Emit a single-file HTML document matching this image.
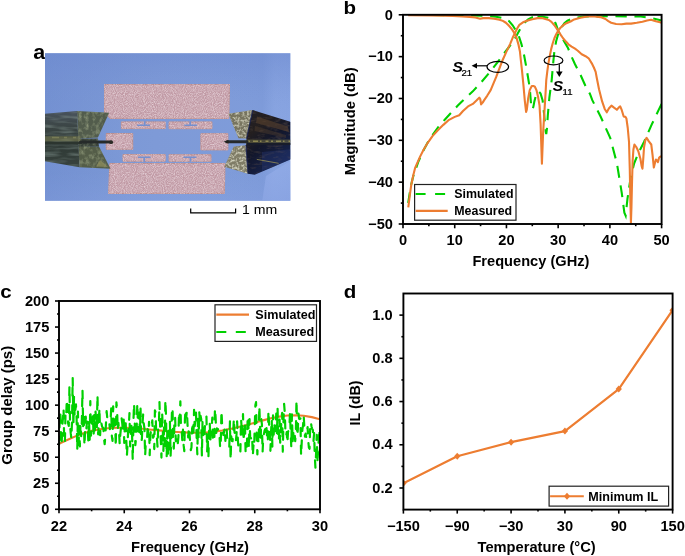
<!DOCTYPE html>
<html><head><meta charset="utf-8"><title>Figure</title>
<style>
html,body{margin:0;padding:0;background:#fff;}
body{width:685px;height:556px;overflow:hidden;font-family:"Liberation Sans",sans-serif;}
svg{display:block;will-change:transform;}
svg text{font-family:"Liberation Sans",sans-serif;fill:#000;}
</style></head><body>
<svg width="685" height="556" viewBox="0 0 685 556">
<rect width="685" height="556" fill="#fff"/>
<text transform="translate(33.2 58.7) scale(1.06 1)" font-size="20.3" font-weight="bold" text-anchor="start" >a</text>
<defs>
<linearGradient id="abg" x1="0" y1="0" x2="1" y2="0">
<stop offset="0" stop-color="#7896d4"/><stop offset="0.45" stop-color="#7e9ad7"/><stop offset="0.88" stop-color="#7f9cda"/><stop offset="0.93" stop-color="#8aa6e2"/><stop offset="1" stop-color="#8ca8e4"/>
</linearGradient>
<radialGradient id="avig" cx="0.6" cy="0.55" r="0.8"><stop offset="0.35" stop-color="#6a86cc" stop-opacity="0"/><stop offset="1" stop-color="#6a86cc" stop-opacity="0.5"/></radialGradient>
<linearGradient id="abg2" x1="0" y1="0" x2="0" y2="1">
<stop offset="0" stop-color="#6f8cd0" stop-opacity="0.35"/><stop offset="0.35" stop-color="#7f9cda" stop-opacity="0"/><stop offset="0.8" stop-color="#8eaae6" stop-opacity="0"/><stop offset="1" stop-color="#93aeea" stop-opacity="0.45"/>
</linearGradient>
<filter id="speck" color-interpolation-filters="sRGB" x="0" y="0" width="100%" height="100%">
<feTurbulence type="fractalNoise" baseFrequency="1.1" numOctaves="1" seed="3" result="n"/>
<feColorMatrix in="n" type="matrix" values="0 0 0 0 0.97  0 0 0 0 0.93  0 0 0 0 0.95  1.3 0 0 0 -0.45" result="w"/>
<feComposite in="w" in2="SourceGraphic" operator="in" result="ws"/>
<feMerge><feMergeNode in="SourceGraphic"/><feMergeNode in="ws"/></feMerge>
</filter>
<filter id="prbL" color-interpolation-filters="sRGB" x="0" y="0" width="100%" height="100%">
<feTurbulence type="fractalNoise" baseFrequency="0.28 0.2" numOctaves="3" seed="11" result="n"/>
<feColorMatrix in="n" type="matrix" values="0 0 0 0 0.66  0 0 0 0 0.70  0 0 0 0 0.56  1.3 0 0 0 -0.55" result="w"/>
<feComposite in="w" in2="SourceGraphic" operator="in" result="ws"/>
<feMerge><feMergeNode in="SourceGraphic"/><feMergeNode in="ws"/></feMerge>
</filter>
<filter id="prbLB" color-interpolation-filters="sRGB" x="0" y="0" width="100%" height="100%">
<feTurbulence type="fractalNoise" baseFrequency="0.05 0.3" numOctaves="2" seed="4" result="n"/>
<feColorMatrix in="n" type="matrix" values="0 0 0 0 0.55  0 0 0 0 0.62  0 0 0 0 0.6  1.2 0 0 0 -0.5" result="w"/>
<feComposite in="w" in2="SourceGraphic" operator="in" result="ws"/>
<feMerge><feMergeNode in="SourceGraphic"/><feMergeNode in="ws"/></feMerge>
</filter>
<filter id="prbR" color-interpolation-filters="sRGB" x="0" y="0" width="100%" height="100%">
<feTurbulence type="fractalNoise" baseFrequency="0.12 0.35" numOctaves="3" seed="5" result="n"/>
<feColorMatrix in="n" type="matrix" values="0 0 0 0 0.36  0 0 0 0 0.30  0 0 0 0 0.27  1.4 0 0 0 -0.72" result="w"/>
<feComposite in="w" in2="SourceGraphic" operator="in" result="ws"/>
<feMerge><feMergeNode in="SourceGraphic"/><feMergeNode in="ws"/></feMerge>
</filter>
<filter id="prbW" color-interpolation-filters="sRGB" x="0" y="0" width="100%" height="100%">
<feTurbulence type="fractalNoise" baseFrequency="0.4" numOctaves="3" seed="23" result="n"/>
<feColorMatrix in="n" type="matrix" values="0 0 0 0 0.86  0 0 0 0 0.86  0 0 0 0 0.78  2.4 0 0 0 -1.0" result="w"/>
<feComposite in="w" in2="SourceGraphic" operator="in" result="ws"/>
<feMerge><feMergeNode in="SourceGraphic"/><feMergeNode in="ws"/></feMerge>
</filter>
<filter id="soft" color-interpolation-filters="sRGB" x="-2%" y="-2%" width="104%" height="104%"><feGaussianBlur stdDeviation="0.8"/></filter>
<clipPath id="ca"><rect x="45.0" y="53.2" width="245.3" height="147.60000000000002"/></clipPath>
<linearGradient id="lbody" x1="0" y1="0" x2="0" y2="1">
<stop offset="0" stop-color="#48525c"/><stop offset="0.3" stop-color="#3a4443"/><stop offset="0.62" stop-color="#2f3935"/><stop offset="1" stop-color="#38433f"/>
</linearGradient>
<linearGradient id="rbody" x1="0" y1="0" x2="0.6" y2="1">
<stop offset="0" stop-color="#1f1f27"/><stop offset="0.3" stop-color="#241f1f"/><stop offset="0.55" stop-color="#12162a"/><stop offset="1" stop-color="#172553"/>
</linearGradient>
</defs>
<g clip-path="url(#ca)"><g>
<rect x="43.0" y="51.2" width="249.3" height="151.60000000000002" fill="url(#abg)"/>
<rect x="43.0" y="51.2" width="249.3" height="151.60000000000002" fill="url(#abg2)"/>
<path d="M266 176 L292 160 L292 202 L262 202 Z" fill="#9db4ee" opacity="0.55"/>
<rect x="43.0" y="51.2" width="249.3" height="151.60000000000002" fill="url(#avig)"/>
<g filter="url(#speck)">
<path d="M104.1 84.4 L229.5 84.4 L228.8 118.5 L110.0 118.4 L104.4 112.5 Z" fill="#c19aa5" stroke="#bf8a84" stroke-width="0.9" />
<path d="M109.8 163.5 L225.0 163.6 L224.3 193.6 L108.6 193.6 Z" fill="#c19aa5" stroke="#bf8a84" stroke-width="0.9" />
<path d="M106.3 133.6 L132.7 133.6 L132.7 149.3 L106.3 149.3 Z" fill="#c19aa5" stroke="#bf8a84" stroke-width="0.9" />
<path d="M200.9 133.7 L227.9 133.7 L227.9 149.9 L200.9 149.9 Z" fill="#c19aa5" stroke="#bf8a84" stroke-width="0.9" />
<path d="M121.4 121.9 L165.2 121.9 L165.2 128.6 L121.4 128.6 Z" fill="#c19aa5" stroke="#bf8a84" stroke-width="0.9" />
<path d="M169.1 121.9 L211.9 121.9 L211.9 128.7 L169.1 128.7 Z" fill="#c19aa5" stroke="#bf8a84" stroke-width="0.9" />
<path d="M123.0 154.6 L165.2 154.6 L165.2 161.2 L123.0 161.2 Z" fill="#c19aa5" stroke="#bf8a84" stroke-width="0.9" />
<path d="M169.1 154.7 L211.0 154.7 L211.0 161.3 L169.1 161.3 Z" fill="#c19aa5" stroke="#bf8a84" stroke-width="0.9" />
</g>
<path d="M137.2 125.2 H150.0" stroke="#7590cf" stroke-width="1.5" fill="none"/>
<path d="M144.7 121.3 V125.2" stroke="#7590cf" stroke-width="1.7" fill="none"/>
<path d="M184.3 125.2 H197.0" stroke="#7590cf" stroke-width="1.5" fill="none"/>
<path d="M190.2 121.3 V125.2" stroke="#7590cf" stroke-width="1.7" fill="none"/>
<path d="M138.0 157.3 H150.6" stroke="#7590cf" stroke-width="1.5" fill="none"/>
<path d="M144.3 157.3 V161.7" stroke="#7590cf" stroke-width="1.7" fill="none"/>
<path d="M183.3 157.3 H196.3" stroke="#7590cf" stroke-width="1.5" fill="none"/>
<path d="M190.5 157.3 V161.7" stroke="#7590cf" stroke-width="1.7" fill="none"/>
<g>
<g filter="url(#prbLB)">
<path d="M43 114 L77 111 L79.6 167.2 L43 160.8 Z" fill="url(#lbody)"/>
</g>
<g filter="url(#prbL)">
<path d="M77 111 L109.2 112.8 L97.9 137.4 L81 138.6 L78.2 138.6 Z" fill="#525c4c"/>
<path d="M78.4 146 L81 146 L99 146.6 L110.5 168.8 L79.6 167.3 Z" fill="#545d48"/>
<path d="M78 138.4 H97.9 L99 146.6 H78.4 Z" fill="#39423a"/>
</g>
<path d="M43 136.2 H80.5 V141.4 H43 Z" fill="#7d8052" opacity="0.55"/>
<path d="M52 137.5 H76" stroke="#a3a56c" stroke-width="1.6" opacity="0.4" stroke-dasharray="7 5 3 6"/>
<path d="M43 142.9 H82" stroke="#2c352f" stroke-width="2.2"/>
<path d="M100 160 L108 167 L96 166.5 Z" fill="#9c9a62" opacity="0.6"/>
<path d="M80.5 142.0 H110.4" stroke="#262b2a" stroke-width="3.0" stroke-linecap="round"/>
<circle cx="111.2" cy="142.2" r="1.9" fill="#2a2a25"/>
<g filter="url(#prbR)">
<path d="M252.7 110.1 L293 122.6 L293 158.5 L254.7 174.8 L248 173.8 L246 146 L246.6 138.2 Z" fill="url(#rbody)"/>
</g>
<path d="M257 116.5 L288 126.5 L289 132 L256 123 Z" fill="#5e4630" opacity="0.55"/>
<path d="M255 126 L286 135 L286 138 L254.5 131 Z" fill="#54402f" opacity="0.4"/>
<path d="M262 152 L293 149 L293 158.5 L262 171 Z" fill="#2b3f86" opacity="0.3"/>
<path d="M256.8 159.4 L278.6 163.3" stroke="#a69b55" stroke-width="1" opacity="0.7"/>
<g filter="url(#prbW)">
<path d="M228.4 113.8 L252.7 110.1 L246.6 138.6 L238.5 138.2 Z" fill="#77745f"/>
<path d="M233.8 146.6 L246 145.2 L248 173.8 L224.3 166.8 Z" fill="#7f7c66"/>
</g>
<path d="M252.7 110.1 L246.6 138.6" stroke="#141c4a" stroke-width="1.3" opacity="0.8"/>
<path d="M246 145.2 L248 173.8" stroke="#141c4a" stroke-width="1.3" opacity="0.8"/>
<path d="M246.5 139.6 H293 V144.8 H246.5 Z" fill="#7a7646" opacity="0.5"/>
<path d="M248 141.3 H293" stroke="#c5bc68" stroke-width="1.5" opacity="0.55" stroke-dasharray="2 3 5 2 1.5 4 3 2.5"/>
<path d="M227 141.8 H247" stroke="#262a2c" stroke-width="3.0" stroke-linecap="round"/>
<path d="M247 144 H293" stroke="#181c2a" stroke-width="1.8"/>
<path d="M223.4 141.8 L228.5 140.1 L228.5 143.5 Z" fill="#20221e"/>
</g>
</g></g>
<path d="M190.7 208.6 V212.8 H235.6 V208.6" fill="none" stroke="#000" stroke-width="1.2"/>
<text transform="translate(241.9 214.3) scale(1.03 1)" font-size="13.7" font-weight="normal" text-anchor="start" >1 mm</text>
<clipPath id="cb"><rect x="403.0" y="14.8" width="258.6" height="209.2"/></clipPath>
<g clip-path="url(#cb)">
<polyline points="408.17,203.08 410.76,186.34 413.34,175.88 418.52,161.24 423.69,149.94 428.86,140.32 439.20,125.68 445.41,118.98 457.82,105.59 465.06,98.48 472.82,91.37 480.58,83.00 490.92,70.87 498.68,60.82 503.85,53.50 509.03,47.02 514.20,39.90 517.82,33.21 520.66,28.19 524.54,22.75 528.16,19.40 532.30,17.31 537.47,16.68" fill="none" stroke="#00D000" stroke-width="2.1"  stroke-dasharray="10.6 7.6" stroke-dashoffset="18.10"/>
<polyline points="537.47,16.68 542.64,16.68 547.82,17.73 551.95,19.82 555.57,23.17 558.16,30.70 563.07,39.49 567.99,48.06 572.12,57.90 575.02,64.17 580.40,74.63 586.40,88.02 589.97,93.88 592.30,100.15 600.57,116.47 610.19,137.81 616.91,163.33 621.78,193.04 624.36,212.70 625.65,215.63 627.46,198.90 630.57,177.98 634.19,163.33 638.84,152.04 644.02,141.99 651.77,124.42 659.53,108.10 661.60,103.92" fill="none" stroke="#00D000" stroke-width="2.1"  stroke-dasharray="12 7.7" stroke-dashoffset="1.12"/>
<polyline points="408.17,15.01 454.72,15.13 480.58,15.64 496.10,16.68 503.85,18.15 509.03,21.08 512.65,25.26 518.34,34.46 521.44,44.09 523.77,53.50 526.61,68.77 529.71,87.60 531.27,106.43 532.30,109.36 533.33,106.85 534.37,101.41 536.44,93.46 538.51,91.37 540.58,93.46 542.64,100.57 544.20,115.22 545.75,131.95 546.26,134.04 547.04,127.77 547.82,115.22 549.37,97.64 551.70,80.07 552.99,65.01 554.38,51.20 556.09,41.58 558.16,34.05 561.26,27.77 564.37,23.17 567.47,20.66 573.68,18.15 584.02,16.47 609.88,16.26 640.91,16.47 650.22,17.90 656.43,19.19 661.60,20.45" fill="none" stroke="#00D000" stroke-width="2.1"  stroke-dasharray="11.3 7.7" stroke-dashoffset="13"/>
<polyline points="408.28,207.26 409.72,195.97 411.28,184.67 413.34,175.05 415.10,167.93 420.07,156.64 423.69,149.52 427.72,142.83 432.48,136.14 437.81,130.28 443.34,124.84 449.03,119.82 454.72,116.89 459.22,115.22 463.00,111.03 468.01,106.43 472.82,103.92 476.44,100.57 479.29,97.64 480.32,99.32 481.10,104.34 482.65,102.66 484.20,100.15 487.30,95.55 490.67,90.11 496.10,77.14 502.66,59.99 506.44,51.62 510.06,44.09 512.65,37.81 515.23,32.37 517.30,28.19 519.37,24.84 522.99,22.33 526.97,20.66 532.30,19.19 537.47,18.15 542.64,18.15 548.85,19.99 551.44,21.91 554.38,25.26 556.09,27.77 558.16,30.70 560.75,34.88 563.07,38.23 565.92,41.58 568.40,44.30 571.61,46.60 575.02,48.69 577.81,50.78 581.69,54.30 585.57,56.22 588.67,58.31 591.78,63.33 593.85,67.52 595.66,71.91 596.69,77.56 599.02,89.28 602.12,101.41 604.71,108.94 606.78,112.29 608.85,108.52 611.43,105.59 614.02,107.68 616.86,109.78 618.67,107.68 620.22,106.43 621.78,110.20 623.69,116.47 625.40,116.89 626.43,118.56 627.72,127.77 629.02,141.99 629.79,169.61 630.41,203.08 630.93,222.74 631.45,207.26 632.02,182.16 632.64,160.82 633.41,149.52 634.45,144.50 636.26,147.01 638.33,151.20 640.39,158.73 641.69,166.26 642.46,168.77 643.24,159.15 644.02,147.43 645.31,140.32 646.60,137.81 648.67,141.16 651.26,144.50 652.55,154.96 653.84,167.52 654.88,163.33 655.91,159.57 656.95,160.40 657.98,162.08 659.01,157.89 660.05,156.64 661.60,156.22" fill="none" stroke="#ED7D31" stroke-width="2.1"  stroke-linejoin="round" stroke-linecap="butt"/>
<polyline points="408.17,15.30 428.86,15.43 444.38,15.72 452.91,16.06 462.48,16.47 469.72,16.89 475.41,17.52 480.06,18.77 483.17,18.15 488.86,18.15 494.03,18.77 499.46,19.65 502.82,20.87 505.92,22.75 508.51,25.26 511.09,28.19 513.16,31.12 515.23,34.46 516.78,38.65 518.34,44.09 519.89,51.20 520.82,59.99 521.96,70.03 523.51,85.93 524.80,100.57 526.09,111.87 526.87,109.36 528.16,98.48 529.71,90.11 531.78,85.93 533.33,85.93 534.89,86.76 536.44,90.11 537.99,96.39 539.54,105.59 540.58,123.58 541.35,146.60 541.92,163.75 542.49,148.69 543.16,131.95 543.94,119.40 544.97,102.66 545.75,89.69 546.26,80.07 547.30,71.28 548.49,62.92 549.88,55.38 551.18,49.11 552.73,43.25 554.38,38.23 556.09,34.46 558.16,30.70 560.49,27.77 563.07,25.26 566.44,23.17 570.57,21.49 574.19,19.40 580.40,17.73 587.38,16.47 594.36,16.47 600.57,17.10 605.48,18.98 608.33,21.08 611.17,22.75 616.09,24.00 621.57,24.30 626.43,23.59 631.09,23.59 636.77,22.75 642.46,21.70 647.12,20.45 651.00,19.82 653.32,20.45 655.91,21.29 660.05,22.33 661.60,22.75" fill="none" stroke="#ED7D31" stroke-width="2.1"  stroke-linejoin="round" stroke-linecap="butt"/>
</g>
<rect x="403.0" y="14.8" width="258.6" height="209.2" fill="none" stroke="#000" stroke-width="1.9"/>
<line x1="403.0" y1="14.80" x2="398.7" y2="14.80" stroke="#000" stroke-width="1.6"/>
<line x1="403.0" y1="56.64" x2="398.7" y2="56.64" stroke="#000" stroke-width="1.6"/>
<line x1="403.0" y1="98.48" x2="398.7" y2="98.48" stroke="#000" stroke-width="1.6"/>
<line x1="403.0" y1="140.32" x2="398.7" y2="140.32" stroke="#000" stroke-width="1.6"/>
<line x1="403.0" y1="182.16" x2="398.7" y2="182.16" stroke="#000" stroke-width="1.6"/>
<line x1="403.0" y1="224.00" x2="398.7" y2="224.00" stroke="#000" stroke-width="1.6"/>
<line x1="403.0" y1="35.72" x2="400.8" y2="35.72" stroke="#000" stroke-width="1.6"/>
<line x1="403.0" y1="77.56" x2="400.8" y2="77.56" stroke="#000" stroke-width="1.6"/>
<line x1="403.0" y1="119.40" x2="400.8" y2="119.40" stroke="#000" stroke-width="1.6"/>
<line x1="403.0" y1="161.24" x2="400.8" y2="161.24" stroke="#000" stroke-width="1.6"/>
<line x1="403.0" y1="203.08" x2="400.8" y2="203.08" stroke="#000" stroke-width="1.6"/>
<line x1="403.00" y1="224.0" x2="403.00" y2="228.3" stroke="#000" stroke-width="1.6"/>
<line x1="454.72" y1="224.0" x2="454.72" y2="228.3" stroke="#000" stroke-width="1.6"/>
<line x1="506.44" y1="224.0" x2="506.44" y2="228.3" stroke="#000" stroke-width="1.6"/>
<line x1="558.16" y1="224.0" x2="558.16" y2="228.3" stroke="#000" stroke-width="1.6"/>
<line x1="609.88" y1="224.0" x2="609.88" y2="228.3" stroke="#000" stroke-width="1.6"/>
<line x1="661.60" y1="224.0" x2="661.60" y2="228.3" stroke="#000" stroke-width="1.6"/>
<line x1="428.86" y1="224.0" x2="428.86" y2="226.2" stroke="#000" stroke-width="1.6"/>
<line x1="480.58" y1="224.0" x2="480.58" y2="226.2" stroke="#000" stroke-width="1.6"/>
<line x1="532.30" y1="224.0" x2="532.30" y2="226.2" stroke="#000" stroke-width="1.6"/>
<line x1="584.02" y1="224.0" x2="584.02" y2="226.2" stroke="#000" stroke-width="1.6"/>
<line x1="635.74" y1="224.0" x2="635.74" y2="226.2" stroke="#000" stroke-width="1.6"/>
<text transform="translate(392.9 19.5) scale(1.03 1)" font-size="14.2" font-weight="bold" text-anchor="end" >0</text>
<text transform="translate(392.9 61.34) scale(1.03 1)" font-size="14.2" font-weight="bold" text-anchor="end" >−10</text>
<text transform="translate(392.9 103.18) scale(1.03 1)" font-size="14.2" font-weight="bold" text-anchor="end" >−20</text>
<text transform="translate(392.9 145.01999999999998) scale(1.03 1)" font-size="14.2" font-weight="bold" text-anchor="end" >−30</text>
<text transform="translate(392.9 186.86) scale(1.03 1)" font-size="14.2" font-weight="bold" text-anchor="end" >−40</text>
<text transform="translate(392.9 228.7) scale(1.03 1)" font-size="14.2" font-weight="bold" text-anchor="end" >−50</text>
<text transform="translate(403.0 245.1) scale(1.03 1)" font-size="14.2" font-weight="bold" text-anchor="middle" >0</text>
<text transform="translate(454.72 245.1) scale(1.03 1)" font-size="14.2" font-weight="bold" text-anchor="middle" >10</text>
<text transform="translate(506.44 245.1) scale(1.03 1)" font-size="14.2" font-weight="bold" text-anchor="middle" >20</text>
<text transform="translate(558.1600000000001 245.1) scale(1.03 1)" font-size="14.2" font-weight="bold" text-anchor="middle" >30</text>
<text transform="translate(609.88 245.1) scale(1.03 1)" font-size="14.2" font-weight="bold" text-anchor="middle" >40</text>
<text transform="translate(661.6 245.1) scale(1.03 1)" font-size="14.2" font-weight="bold" text-anchor="middle" >50</text>
<text transform="translate(530.9 266.3) scale(1.03 1)" font-size="14.2" font-weight="bold" text-anchor="middle" >Frequency (GHz)</text>
<text transform="translate(354.8 121.2) rotate(-90) scale(1.045 1)" font-size="14.2" font-weight="bold" text-anchor="middle" >Magnitude (dB)</text>
<text transform="translate(343.4 14.3) scale(1.13 1)" font-size="18.2" font-weight="bold" text-anchor="start" >b</text>
<rect x="414.6" y="184.5" width="101.4" height="35.7" fill="#fff" stroke="#222" stroke-width="1.2"/>
<line x1="415.6" y1="194" x2="447.7" y2="194" stroke="#00D000" stroke-width="2.1" stroke-dasharray="10 9.5"/>
<line x1="415.6" y1="210.9" x2="447.7" y2="210.9" stroke="#ED7D31" stroke-width="2.1"/>
<text transform="translate(454.3 197.7) scale(1.0 1)" font-size="12.4" font-weight="bold" text-anchor="start" >Simulated</text>
<text transform="translate(454.3 215.3) scale(1.0 1)" font-size="12.4" font-weight="bold" text-anchor="start" >Measured</text>
<ellipse cx="497.8" cy="66.8" rx="10.8" ry="5.5" fill="none" stroke="#000" stroke-width="1.2"/>
<line x1="487" y1="65.8" x2="476" y2="65.8" stroke="#000" stroke-width="1.2"/>
<path d="M471.6 65.8 L477 63 L477 68.6 Z" fill="#000"/>
<text transform="translate(452.4 72.0) scale(1.03 1)" font-size="15.2" font-weight="bold" text-anchor="start" font-style="italic">S</text>
<text transform="translate(461.5 75.8) scale(0.98 1)" font-size="9.8" font-weight="normal" text-anchor="start" stroke="#000" stroke-width="0.25">21</text>
<ellipse cx="553.5" cy="60.4" rx="9.4" ry="4.4" fill="none" stroke="#000" stroke-width="1.2"/>
<line x1="559.3" y1="64.2" x2="559.3" y2="72" stroke="#000" stroke-width="1.2"/>
<path d="M559.3 77.1 L556 71.4 L562.6 71.4 Z" fill="#000"/>
<text transform="translate(552.7 90.7) scale(1.03 1)" font-size="15.2" font-weight="bold" text-anchor="start" font-style="italic">S</text>
<text transform="translate(562.6 94.5) scale(0.98 1)" font-size="9.8" font-weight="normal" text-anchor="start" stroke="#000" stroke-width="0.25">11</text>
<clipPath id="cc"><rect x="59.0" y="301.0" width="261.0" height="208.3"/></clipPath>
<g clip-path="url(#cc)">
<polyline points="59.00,443.69 67.16,440.04 75.31,436.39 83.47,433.27 91.62,430.88 99.78,429.31 107.94,428.27 116.09,427.75 124.25,427.75 132.41,428.06 140.56,428.58 148.72,429.42 156.88,430.15 165.03,430.98 173.19,431.71 181.34,432.23 189.50,432.65 197.66,432.75 205.81,432.44 213.97,431.71 222.12,430.46 230.28,428.90 238.44,427.02 246.59,424.94 254.75,422.65 262.91,420.36 271.06,418.27 279.22,416.61 287.38,415.56 295.53,415.25 303.69,415.77 311.84,417.13 320.00,419.21" fill="none" stroke="#ED7D31" stroke-width="2.1"  stroke-linejoin="round" stroke-linecap="butt"/>
<polyline points="59.00,444.97 59.65,421.66 60.30,412.32 60.96,433.79 61.61,445.35 62.26,426.47 62.92,418.03 63.57,408.37 64.22,442.36 64.87,443.18 65.52,412.78 66.18,415.84 66.83,399.35 67.48,407.30 68.14,423.51 68.79,425.87 69.44,386.00 70.09,425.68 70.74,433.21 71.40,438.62 72.05,419.41 72.70,378.07 73.36,426.32 74.01,396.82 74.66,416.91 75.31,410.55 75.96,404.46 76.62,418.58 77.27,450.06 77.92,411.54 78.58,444.89 79.23,425.83 79.88,446.36 80.53,423.88 81.18,436.27 81.84,421.37 82.49,389.84 83.14,426.11 83.80,412.93 84.45,446.04 85.10,430.68 85.75,416.72 86.41,428.29 87.06,421.68 87.71,425.88 88.36,442.41 89.02,419.60 89.67,439.83 90.32,401.13 90.97,435.64 91.62,418.70 92.28,428.63 92.93,415.30 93.58,437.43 94.23,415.03 94.89,430.90 95.54,411.70 96.19,420.74 96.84,427.55 97.50,394.74 98.15,434.31 98.80,423.43 99.45,407.60 100.11,435.12 100.76,422.62 101.41,423.38 102.07,426.51 102.72,427.62 103.37,428.08 104.02,438.58 104.67,444.20 105.33,436.07 105.98,423.09 106.63,411.03 107.29,418.21 107.94,417.32 108.59,421.07 109.24,422.21 109.89,429.08 110.55,421.46 111.20,408.43 111.85,436.06 112.51,440.94 113.16,406.30 113.81,428.83 114.46,419.42 115.11,420.78 115.77,447.10 116.42,402.33 117.07,409.26 117.73,430.19 118.38,422.75 119.03,430.98 119.68,444.22 120.33,434.21 120.99,427.94 121.64,418.33 122.29,423.68 122.95,432.19 123.60,415.37 124.25,442.96 124.90,422.76 125.55,418.64 126.21,436.96 126.86,456.50 127.51,445.01 128.17,430.14 128.82,426.37 129.47,413.10 130.12,446.34 130.77,433.24 131.43,424.82 132.08,435.32 132.73,460.60 133.39,422.75 134.04,403.29 134.69,420.15 135.34,445.14 135.99,438.54 136.65,430.26 137.30,403.17 137.95,425.04 138.61,431.56 139.26,412.72 139.91,434.02 140.56,408.67 141.21,441.77 141.87,438.98 142.52,423.35 143.17,414.13 143.83,424.10 144.48,428.62 145.13,456.19 145.78,441.68 146.44,440.28 147.09,439.20 147.74,424.53 148.39,436.45 149.04,421.75 149.70,455.14 150.35,436.16 151.00,430.20 151.66,426.07 152.31,420.39 152.96,437.68 153.61,434.40 154.27,449.03 154.92,410.30 155.57,412.18 156.22,433.31 156.88,437.11 157.53,446.87 158.18,428.47 158.83,427.90 159.48,402.08 160.14,427.18 160.79,440.42 161.44,457.53 162.09,411.75 162.75,427.53 163.40,450.86 164.05,427.46 164.71,450.66 165.36,399.68 166.01,414.97 166.66,457.23 167.31,431.64 167.97,456.62 168.62,430.84 169.27,449.35 169.92,421.27 170.58,456.30 171.23,440.70 171.88,412.94 172.54,407.35 173.19,444.06 173.84,448.59 174.49,417.11 175.14,417.40 175.80,441.29 176.45,437.44 177.10,437.39 177.76,443.79 178.41,437.12 179.06,411.95 179.71,419.22 180.36,401.39 181.02,429.27 181.67,429.88 182.32,440.89 182.98,429.70 183.63,445.17 184.28,451.21 184.93,418.99 185.58,409.31 186.24,417.17 186.89,410.73 187.54,424.80 188.20,437.45 188.85,426.99 189.50,433.01 190.15,442.64 190.80,450.23 191.46,447.53 192.11,428.34 192.76,426.34 193.42,434.53 194.07,409.79 194.72,426.12 195.37,420.91 196.02,412.69 196.68,439.29 197.33,454.32 197.98,418.95 198.64,437.77 199.29,411.82 199.94,424.56 200.59,415.93 201.24,419.17 201.90,456.28 202.55,419.91 203.20,438.12 203.86,439.29 204.51,435.20 205.16,419.62 205.81,418.20 206.46,416.64 207.12,451.51 207.77,437.68 208.42,457.43 209.08,431.52 209.73,422.47 210.38,440.33 211.03,427.30 211.69,427.57 212.34,417.56 212.99,441.47 213.64,441.67 214.29,440.91 214.95,408.26 215.60,416.97 216.25,432.88 216.91,428.43 217.56,429.97 218.21,428.91 218.86,434.36 219.52,436.09 220.17,448.18 220.82,440.27 221.47,410.51 222.12,425.10 222.78,431.32 223.43,435.04 224.08,431.51 224.73,427.80 225.39,440.88 226.04,429.98 226.69,429.48 227.34,442.42 228.00,443.01 228.65,445.80 229.30,446.69 229.96,421.32 230.61,460.29 231.26,436.47 231.91,440.99 232.56,441.15 233.22,431.84 233.87,418.46 234.52,432.18 235.17,435.02 235.83,441.19 236.48,434.92 237.13,421.38 237.79,438.39 238.44,448.19 239.09,449.73 239.74,447.68 240.39,451.36 241.05,418.95 241.70,428.62 242.35,436.32 243.01,414.21 243.66,441.75 244.31,423.35 244.96,422.70 245.61,453.22 246.27,453.32 246.92,445.09 247.57,421.16 248.23,416.05 248.88,448.85 249.53,419.16 250.18,437.74 250.83,437.82 251.49,439.81 252.14,436.79 252.79,456.17 253.45,445.46 254.10,448.44 254.75,425.89 255.40,405.00 256.05,402.17 256.71,436.41 257.36,454.36 258.01,437.16 258.67,444.00 259.32,405.86 259.97,424.16 260.62,440.98 261.27,419.22 261.93,424.33 262.58,452.37 263.23,438.03 263.89,434.13 264.54,430.67 265.19,429.10 265.84,435.13 266.50,428.15 267.15,438.15 267.80,442.09 268.45,410.59 269.11,425.54 269.76,424.42 270.41,450.80 271.06,432.10 271.71,419.18 272.37,446.56 273.02,415.37 273.67,434.64 274.33,424.24 274.98,431.13 275.63,426.46 276.28,413.56 276.94,434.39 277.59,408.70 278.24,439.17 278.89,441.04 279.54,419.58 280.20,442.65 280.85,433.53 281.50,416.83 282.15,412.82 282.81,451.63 283.46,421.88 284.11,403.89 284.77,412.81 285.42,431.45 286.07,436.10 286.72,432.10 287.38,443.22 288.03,431.62 288.68,430.59 289.33,430.02 289.98,412.71 290.64,431.09 291.29,447.06 291.94,414.39 292.60,442.03 293.25,433.89 293.90,429.81 294.55,432.55 295.21,441.14 295.86,431.34 296.51,399.68 297.16,436.03 297.81,429.93 298.47,413.55 299.12,418.78 299.77,419.09 300.42,418.35 301.08,455.75 301.73,441.94 302.38,429.58 303.04,425.32 303.69,415.53 304.34,426.84 304.99,436.63 305.64,433.59 306.30,437.43 306.95,432.05 307.60,427.07 308.25,440.86 308.91,447.62 309.56,448.75 310.21,423.94 310.86,422.14 311.52,426.50 312.17,428.86 312.82,429.77 313.48,441.25 314.13,433.18 314.78,456.13 315.43,467.64 316.08,453.20 316.74,434.79 317.39,462.43 318.04,446.88 318.70,440.87 319.35,429.06 320.00,457.62" fill="none" stroke="#00D000" stroke-width="2.2"  stroke-dasharray="8 9.5" stroke-linejoin="round" stroke-linecap="round"/>
</g>
<rect x="59.0" y="301.0" width="261.0" height="208.3" fill="none" stroke="#000" stroke-width="1.9"/>
<line x1="59.0" y1="509.30" x2="55.0" y2="509.30" stroke="#000" stroke-width="1.6"/>
<line x1="59.0" y1="483.26" x2="55.0" y2="483.26" stroke="#000" stroke-width="1.6"/>
<line x1="59.0" y1="457.23" x2="55.0" y2="457.23" stroke="#000" stroke-width="1.6"/>
<line x1="59.0" y1="431.19" x2="55.0" y2="431.19" stroke="#000" stroke-width="1.6"/>
<line x1="59.0" y1="405.15" x2="55.0" y2="405.15" stroke="#000" stroke-width="1.6"/>
<line x1="59.0" y1="379.11" x2="55.0" y2="379.11" stroke="#000" stroke-width="1.6"/>
<line x1="59.0" y1="353.07" x2="55.0" y2="353.07" stroke="#000" stroke-width="1.6"/>
<line x1="59.0" y1="327.04" x2="55.0" y2="327.04" stroke="#000" stroke-width="1.6"/>
<line x1="59.0" y1="301.00" x2="55.0" y2="301.00" stroke="#000" stroke-width="1.6"/>
<line x1="59.0" y1="496.28" x2="57.0" y2="496.28" stroke="#000" stroke-width="1.6"/>
<line x1="59.0" y1="470.24" x2="57.0" y2="470.24" stroke="#000" stroke-width="1.6"/>
<line x1="59.0" y1="444.21" x2="57.0" y2="444.21" stroke="#000" stroke-width="1.6"/>
<line x1="59.0" y1="418.17" x2="57.0" y2="418.17" stroke="#000" stroke-width="1.6"/>
<line x1="59.0" y1="392.13" x2="57.0" y2="392.13" stroke="#000" stroke-width="1.6"/>
<line x1="59.0" y1="366.09" x2="57.0" y2="366.09" stroke="#000" stroke-width="1.6"/>
<line x1="59.0" y1="340.06" x2="57.0" y2="340.06" stroke="#000" stroke-width="1.6"/>
<line x1="59.0" y1="314.02" x2="57.0" y2="314.02" stroke="#000" stroke-width="1.6"/>
<line x1="59.00" y1="509.3" x2="59.00" y2="513.3" stroke="#000" stroke-width="1.6"/>
<line x1="124.25" y1="509.3" x2="124.25" y2="513.3" stroke="#000" stroke-width="1.6"/>
<line x1="189.50" y1="509.3" x2="189.50" y2="513.3" stroke="#000" stroke-width="1.6"/>
<line x1="254.75" y1="509.3" x2="254.75" y2="513.3" stroke="#000" stroke-width="1.6"/>
<line x1="320.00" y1="509.3" x2="320.00" y2="513.3" stroke="#000" stroke-width="1.6"/>
<line x1="91.62" y1="509.3" x2="91.62" y2="511.3" stroke="#000" stroke-width="1.6"/>
<line x1="156.88" y1="509.3" x2="156.88" y2="511.3" stroke="#000" stroke-width="1.6"/>
<line x1="222.12" y1="509.3" x2="222.12" y2="511.3" stroke="#000" stroke-width="1.6"/>
<line x1="287.38" y1="509.3" x2="287.38" y2="511.3" stroke="#000" stroke-width="1.6"/>
<text transform="translate(49.3 514.0) scale(1.03 1)" font-size="14.2" font-weight="bold" text-anchor="end" >0</text>
<text transform="translate(49.3 487.9625) scale(1.03 1)" font-size="14.2" font-weight="bold" text-anchor="end" >25</text>
<text transform="translate(49.3 461.925) scale(1.03 1)" font-size="14.2" font-weight="bold" text-anchor="end" >50</text>
<text transform="translate(49.3 435.8875) scale(1.03 1)" font-size="14.2" font-weight="bold" text-anchor="end" >75</text>
<text transform="translate(49.3 409.84999999999997) scale(1.03 1)" font-size="14.2" font-weight="bold" text-anchor="end" >100</text>
<text transform="translate(49.3 383.8125) scale(1.03 1)" font-size="14.2" font-weight="bold" text-anchor="end" >125</text>
<text transform="translate(49.3 357.775) scale(1.03 1)" font-size="14.2" font-weight="bold" text-anchor="end" >150</text>
<text transform="translate(49.3 331.7375) scale(1.03 1)" font-size="14.2" font-weight="bold" text-anchor="end" >175</text>
<text transform="translate(49.3 305.7) scale(1.03 1)" font-size="14.2" font-weight="bold" text-anchor="end" >200</text>
<text transform="translate(59.0 530.7) scale(1.03 1)" font-size="14.2" font-weight="bold" text-anchor="middle" >22</text>
<text transform="translate(124.25 530.7) scale(1.03 1)" font-size="14.2" font-weight="bold" text-anchor="middle" >24</text>
<text transform="translate(189.5 530.7) scale(1.03 1)" font-size="14.2" font-weight="bold" text-anchor="middle" >26</text>
<text transform="translate(254.75 530.7) scale(1.03 1)" font-size="14.2" font-weight="bold" text-anchor="middle" >28</text>
<text transform="translate(320.0 530.7) scale(1.03 1)" font-size="14.2" font-weight="bold" text-anchor="middle" >30</text>
<text transform="translate(189.9 552.4) scale(1.04 1)" font-size="14.2" font-weight="bold" text-anchor="middle" >Frequency (GHz)</text>
<text transform="translate(12.1 405.3) rotate(-90) scale(1.055 1)" font-size="14.2" font-weight="bold" text-anchor="middle" >Group delay (ps)</text>
<text transform="translate(0.3 298.3) scale(1.13 1)" font-size="18.2" font-weight="bold" text-anchor="start" >c</text>
<rect x="215" y="304.8" width="101.5" height="36.6" fill="#fff" stroke="#222" stroke-width="1.2"/>
<line x1="216.3" y1="314.6" x2="249" y2="314.6" stroke="#ED7D31" stroke-width="2.1"/>
<line x1="216.3" y1="332" x2="249" y2="332" stroke="#00D000" stroke-width="2.1" stroke-dasharray="10 9.5"/>
<text transform="translate(255.3 318.8) scale(1.0 1)" font-size="12.6" font-weight="bold" text-anchor="start" >Simulated</text>
<text transform="translate(255.3 336.1) scale(1.0 1)" font-size="12.6" font-weight="bold" text-anchor="start" >Measured</text>
<clipPath id="cd"><rect x="403.4" y="293.5" width="269.20000000000005" height="216.10000000000002"/></clipPath>
<g clip-path="url(#cd)">
<polyline points="403.40,483.24 457.24,456.29 511.08,442.18 564.92,431.09 618.76,389.02 672.60,310.20" fill="none" stroke="#ED7D31" stroke-width="2.2"  stroke-linejoin="round" stroke-linecap="butt"/>
<path d="M403.40 479.74 L406.55 483.24 L403.40 486.74 L400.25 483.24 Z" fill="#ED7D31"/>
<path d="M457.24 452.79 L460.39 456.29 L457.24 459.79 L454.09 456.29 Z" fill="#ED7D31"/>
<path d="M511.08 438.68 L514.23 442.18 L511.08 445.68 L507.93 442.18 Z" fill="#ED7D31"/>
<path d="M564.92 427.59 L568.07 431.09 L564.92 434.59 L561.77 431.09 Z" fill="#ED7D31"/>
<path d="M618.76 385.52 L621.91 389.02 L618.76 392.52 L615.61 389.02 Z" fill="#ED7D31"/>
<path d="M672.60 306.70 L675.75 310.20 L672.60 313.70 L669.45 310.20 Z" fill="#ED7D31"/>
</g>
<rect x="403.4" y="293.5" width="269.20000000000005" height="216.10000000000002" fill="none" stroke="#000" stroke-width="1.9"/>
<line x1="403.4" y1="487.99" x2="399.4" y2="487.99" stroke="#000" stroke-width="1.6"/>
<line x1="403.4" y1="444.77" x2="399.4" y2="444.77" stroke="#000" stroke-width="1.6"/>
<line x1="403.4" y1="401.55" x2="399.4" y2="401.55" stroke="#000" stroke-width="1.6"/>
<line x1="403.4" y1="358.33" x2="399.4" y2="358.33" stroke="#000" stroke-width="1.6"/>
<line x1="403.4" y1="315.11" x2="399.4" y2="315.11" stroke="#000" stroke-width="1.6"/>
<line x1="403.4" y1="466.38" x2="401.4" y2="466.38" stroke="#000" stroke-width="1.6"/>
<line x1="403.4" y1="423.16" x2="401.4" y2="423.16" stroke="#000" stroke-width="1.6"/>
<line x1="403.4" y1="379.94" x2="401.4" y2="379.94" stroke="#000" stroke-width="1.6"/>
<line x1="403.4" y1="336.72" x2="401.4" y2="336.72" stroke="#000" stroke-width="1.6"/>
<line x1="403.40" y1="509.6" x2="403.40" y2="513.6" stroke="#000" stroke-width="1.6"/>
<line x1="457.24" y1="509.6" x2="457.24" y2="513.6" stroke="#000" stroke-width="1.6"/>
<line x1="511.08" y1="509.6" x2="511.08" y2="513.6" stroke="#000" stroke-width="1.6"/>
<line x1="564.92" y1="509.6" x2="564.92" y2="513.6" stroke="#000" stroke-width="1.6"/>
<line x1="618.76" y1="509.6" x2="618.76" y2="513.6" stroke="#000" stroke-width="1.6"/>
<line x1="672.60" y1="509.6" x2="672.60" y2="513.6" stroke="#000" stroke-width="1.6"/>
<line x1="430.32" y1="509.6" x2="430.32" y2="511.6" stroke="#000" stroke-width="1.6"/>
<line x1="484.16" y1="509.6" x2="484.16" y2="511.6" stroke="#000" stroke-width="1.6"/>
<line x1="538.00" y1="509.6" x2="538.00" y2="511.6" stroke="#000" stroke-width="1.6"/>
<line x1="591.84" y1="509.6" x2="591.84" y2="511.6" stroke="#000" stroke-width="1.6"/>
<line x1="645.68" y1="509.6" x2="645.68" y2="511.6" stroke="#000" stroke-width="1.6"/>
<text transform="translate(392.6 492.69) scale(1.03 1)" font-size="14.2" font-weight="bold" text-anchor="end" >0.2</text>
<text transform="translate(392.6 449.47) scale(1.03 1)" font-size="14.2" font-weight="bold" text-anchor="end" >0.4</text>
<text transform="translate(392.6 406.25000000000006) scale(1.03 1)" font-size="14.2" font-weight="bold" text-anchor="end" >0.6</text>
<text transform="translate(392.6 363.03000000000003) scale(1.03 1)" font-size="14.2" font-weight="bold" text-anchor="end" >0.8</text>
<text transform="translate(392.6 319.81) scale(1.03 1)" font-size="14.2" font-weight="bold" text-anchor="end" >1.0</text>
<text transform="translate(403.4 530.7) scale(1.03 1)" font-size="14.2" font-weight="bold" text-anchor="middle" >−150</text>
<text transform="translate(457.24 530.7) scale(1.03 1)" font-size="14.2" font-weight="bold" text-anchor="middle" >−90</text>
<text transform="translate(511.08 530.7) scale(1.03 1)" font-size="14.2" font-weight="bold" text-anchor="middle" >−30</text>
<text transform="translate(564.92 530.7) scale(1.03 1)" font-size="14.2" font-weight="bold" text-anchor="middle" >30</text>
<text transform="translate(618.76 530.7) scale(1.03 1)" font-size="14.2" font-weight="bold" text-anchor="middle" >90</text>
<text transform="translate(672.6 530.7) scale(1.03 1)" font-size="14.2" font-weight="bold" text-anchor="middle" >150</text>
<text transform="translate(536.6 552.4) scale(1.035 1)" font-size="14.2" font-weight="bold" text-anchor="middle" >Temperature (°C)</text>
<text transform="translate(359.6 403) rotate(-90) scale(1.005 1)" font-size="14.2" font-weight="bold" text-anchor="middle" >IL (dB)</text>
<text transform="translate(343.7 298.3) scale(1.13 1)" font-size="18.2" font-weight="bold" text-anchor="start" >d</text>
<rect x="549.1" y="486.2" width="119.5" height="19.9" fill="#fff" stroke="#222" stroke-width="1.2"/>
<line x1="550.1" y1="496.3" x2="583.8" y2="496.3" stroke="#ED7D31" stroke-width="2.1"/>
<path d="M567.00 492.80 L570.15 496.30 L567.00 499.80 L563.85 496.30 Z" fill="#ED7D31"/>
<text transform="translate(588.3 501.4) scale(1.0 1)" font-size="12.6" font-weight="bold" text-anchor="start" >Minimum IL</text>
</svg>
</body></html>
